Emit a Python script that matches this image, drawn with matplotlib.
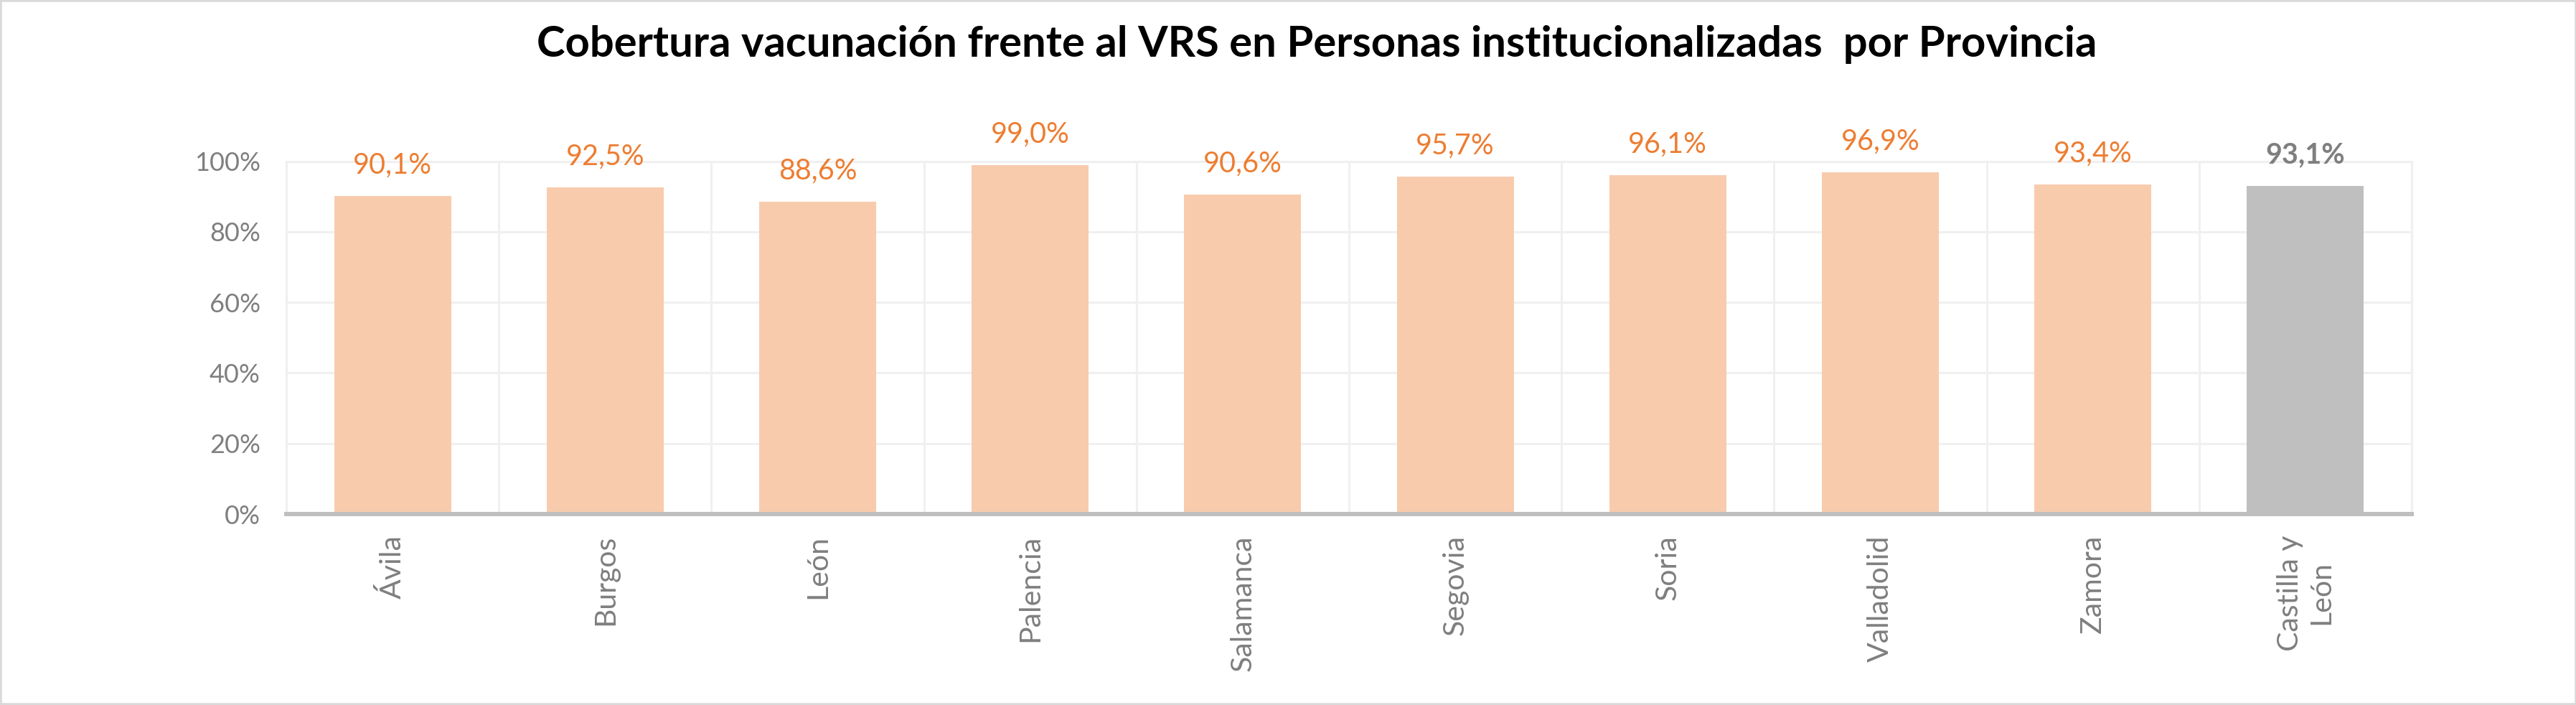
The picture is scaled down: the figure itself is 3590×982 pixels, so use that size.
import numpy as np
import matplotlib.pyplot as plt
from matplotlib.patches import Rectangle

provincias = ["Ávila", "Burgos", "León", "Palencia", "Salamanca", "Segovia",
              "Soria", "Valladolid", "Zamora", "Castilla y\nLeón"]
cobertura = [90.1, 92.5, 88.6, 99.0, 90.6, 95.7, 96.1, 96.9, 93.4, 93.1]
etiquetas = ["90,1%", "92,5%", "88,6%", "99,0%", "90,6%", "95,7%",
             "96,1%", "96,9%", "93,4%", "93,1%"]
yticks = [0, 20, 40, 60, 80, 100]
ytick_labels = ["0%", "20%", "40%", "60%", "80%", "100%"]

plt.rcParams['font.family'] = ['Lato', 'DejaVu Sans']

W, H = 3591, 982
fig = plt.figure(figsize=(W / 100, H / 100), dpi=100)
ax = fig.add_axes([399 / W, 1 - 716 / H, (3361 - 399) / W, (716 - 224.6) / H])

x = np.arange(len(provincias))
colores = ["#F8CBAD"] * (len(provincias) - 1) + ["#BFBFBF"]
ax.bar(x, cobertura, width=0.55, color=colores, zorder=2)

ax.set_xlim(-0.5, len(provincias) - 0.5)
ax.set_ylim(0, 100)

# grid: horizontal at ticks, vertical between categories
ax.set_yticks(yticks)
ax.set_yticklabels(ytick_labels)
ax.set_xticks(x)
ax.set_xticklabels(provincias, rotation=90, va='top', ha='center',
                   multialignment='center')
ax.set_xticks(np.arange(-0.5, len(provincias)), minor=True)
ax.grid(axis='y', color='#F0F0F0', linewidth=2.2, zorder=0)
ax.grid(axis='x', which='minor', color='#F0F0F0', linewidth=2.2, zorder=0)
ax.grid(axis='x', which='major', visible=False)

for s in ['left', 'right', 'top']:
    ax.spines[s].set_color('#F0F0F0')
    ax.spines[s].set_linewidth(2.2)
ax.spines['bottom'].set_color('#BFBFBF')
ax.spines['bottom'].set_linewidth(4.3)
ax.spines['bottom'].set_zorder(3)

ax.tick_params(axis='y', length=0, pad=26, labelsize=26, labelcolor='#7F7F7F')
ax.tick_params(axis='x', which='major', direction='in', length=6.5, width=2.2,
               color='#BFBFBF', pad=21, labelsize=29.5, labelcolor='#7F7F7F')
ax.tick_params(axis='x', which='minor', length=0)

for i, (v, t) in enumerate(zip(cobertura, etiquetas)):
    total = i == len(provincias) - 1
    ax.annotate(t, (x[i], v), xytext=(0, 22.7), textcoords='offset points',
                ha='center', va='baseline', fontsize=28.5,
                color='#7F7F7F' if total else '#ED7D31',
                fontweight='bold' if total else 'normal')

fig.text(1835 / W, 1 - 79 / H,
         "Cobertura vacunación frente al VRS en Personas institucionalizadas  por Provincia",
         ha='center', va='baseline', fontsize=43, fontweight='bold', color='black')

fig.patches.append(Rectangle((0, 0), 1, 1, transform=fig.transFigure,
                             fill=False, edgecolor='#D9D9D9', linewidth=4))

fig.savefig("out.png", dpi=100, facecolor='white')
